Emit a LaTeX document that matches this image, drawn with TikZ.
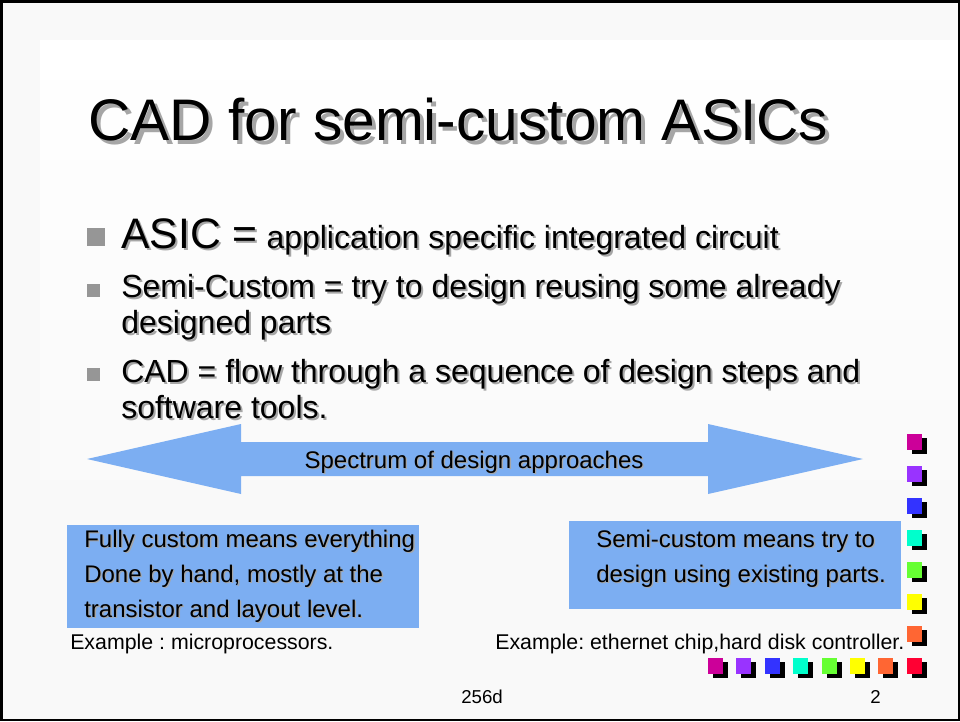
\documentclass[tikz,border=0pt]{standalone}
\usepackage{fontspec}
\setmainfont{Liberation Sans}
\usetikzlibrary{positioning, calc}
\frenchspacing

\definecolor{slidebg}{RGB}{249,249,249}
\definecolor{bulletgray}{RGB}{150,150,150}
\definecolor{spectrumblue}{RGB}{124,174,242}
\definecolor{sqmag}{RGB}{204,0,153}
\definecolor{sqpur}{RGB}{153,51,255}
\definecolor{sqblu}{RGB}{51,51,255}
\definecolor{sqcya}{RGB}{0,255,204}
\definecolor{sqgrn}{RGB}{102,255,51}
\definecolor{sqyel}{RGB}{255,255,0}
\definecolor{sqorg}{RGB}{255,102,51}
\definecolor{sqred}{RGB}{255,0,51}

% text with a soft drop shadow
\newcommand{\shad}[2][1.5pt]{\makebox[0pt][l]{\hspace{#1}\raisebox{-#1}{\color{black!35}#2}}{#2}}

\begin{document}
\begin{tikzpicture}[x=0.75pt, y=-0.75pt,
	titletext/.style={font=\fontsize{44}{50}\selectfont, inner sep=0pt, anchor=base west},
	slidetext/.style={font=\fontsize{24}{28}\selectfont, inner sep=0pt, anchor=base west},
	boxtext/.style={font=\fontsize{18}{21}\selectfont, inner sep=0pt, anchor=base west},
	smalltext/.style={font=\fontsize{16}{19}\selectfont, inner sep=0pt, anchor=base west},
	foottext/.style={font=\fontsize{14}{16}\selectfont, inner sep=0pt, anchor=base west},
	bigbullet/.style={rectangle, fill=bulletgray, inner sep=0pt, minimum size=13.5pt},
	bullet/.style={rectangle, fill=bulletgray, inner sep=0pt, minimum size=9.75pt},
	bluebox/.style={rectangle, fill=spectrumblue, inner sep=0pt, anchor=north west},
	spectrum/.style={fill=spectrumblue}
]
\useasboundingbox (0,0) rectangle (960,721);

% slide background
\fill[slidebg] (0,0) rectangle (960,721);
\shade[top color=white, bottom color=slidebg] (40,40) rectangle (960,520);
\draw[line width=1.5pt] (1.5,1.5) rectangle (958.5,719.5);

% title
\node[titletext] (title) at (88,140) {\shad[3pt]{CAD for semi-custom ASICs}};

% bullets
\node[bigbullet] (b1) at (96,237) {};
\node[slidetext] (asic) at (121,248) {\shad{\fontsize{32}{36}\selectfont ASIC =} \shad{application specific integrated circuit}};
\node[bullet] (b2) at (93.5,290) {};
\node[slidetext] (semi) at (121,297) {\shad{Semi-Custom = try to design reusing some already}};
\node[slidetext] (semib) at ($(semi.base west)+(0,36)$) {\shad{designed parts}};
\node[bullet] (b3) at (93.5,374) {};
\node[slidetext] (cad) at (121,382) {\shad{CAD = flow through a sequence of design steps and}};
\node[slidetext] (cadb) at ($(cad.base west)+(0,36)$) {\shad{software tools.}};

% spectrum arrow
\fill[spectrum] (87,459) -- (241,424) -- (241,442) -- (708,442) -- (708,424) -- (863,459)
	-- (708,494) -- (708,476) -- (241,476) -- (241,494) -- cycle;
\node[boxtext, anchor=base] (spec) at (474,468) {\shad[1pt]{Spectrum of design approaches}};

% fully custom
\node[bluebox, minimum width=264pt, minimum height=77.25pt] (fullbox) at (67,525) {};
\node[boxtext] (full1) at (84,547) {\shad[1pt]{Fully custom means everything}};
\node[boxtext] (full2) at ($(full1.base west)+(0,35)$) {\shad[1pt]{Done by hand, mostly at the}};
\node[boxtext] (full3) at ($(full2.base west)+(0,35)$) {\shad[1pt]{transistor and layout level.}};
\node[smalltext] (fullex) at (70,649) {Example : microprocessors.};

% semi custom
\node[bluebox, minimum width=249pt, minimum height=66pt] (semibox) at (569,521) {};
\node[boxtext] (semi1) at (596,547) {\shad[1pt]{Semi-custom means try to}};
\node[boxtext] (semi2) at ($(semi1.base west)+(0,35)$) {\shad[1pt]{design using existing parts.}};
\node[smalltext] (semiex) at (495,649) {Example: ethernet chip,hard disk controller.};

% footer
\node[foottext] (code) at (461,703) {256d};
\node[foottext] (page) at (870,703) {2};

% coloured squares
\foreach \c [count=\i from 0] in {sqmag,sqpur,sqblu,sqcya,sqgrn,sqyel,sqorg,sqred} {
	\fill[black] (912,{438+32*\i}) rectangle ++(15,16);
	\fill[\c] (907,{434+32*\i}) rectangle ++(15,16);
	\fill[black] ({713+28.4*\i},662) rectangle ++(15,16);
	\fill[\c] ({708+28.4*\i},658) rectangle ++(15,16);
}

\end{tikzpicture}
\end{document}
